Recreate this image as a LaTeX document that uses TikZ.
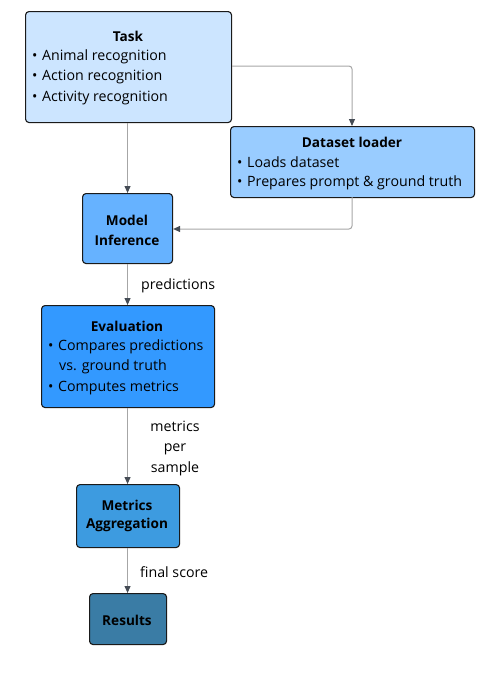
\documentclass[tikz,border=0pt]{standalone}
\usepackage{fontspec}
\setmainfont{Open Sans}
\usetikzlibrary{arrows.meta}
\definecolor{cTask}{HTML}{CCE5FF}
\definecolor{cData}{HTML}{99CCFF}
\definecolor{cModel}{HTML}{66B2FF}
\definecolor{cEval}{HTML}{3399FF}
\definecolor{cAgg}{HTML}{3D9BE0}
\definecolor{cRes}{HTML}{3A7CA5}
\definecolor{cBorder}{HTML}{1A1A1A}
\definecolor{cLine}{HTML}{A6A6A6}
\definecolor{cTip}{HTML}{454C55}
\tikzset{
  box/.style={draw=cBorder, line width=1.1pt, rounded corners=3.5pt, inner sep=0pt, anchor=north west},
  ttl/.style={font=\fontsize{13.6}{15}\selectfont\bfseries, inner sep=0pt, text=black},
  txt/.style={font=\fontsize{14.2}{15}\selectfont, inner sep=0pt, anchor=west, text=black},
  lbl/.style={font=\fontsize{14.2}{20.5}\selectfont, inner sep=0pt, text=black},
  conn/.style={draw=cLine, line width=1pt, rounded corners=3pt, -{Triangle[width=6pt,length=7pt,color=cTip]}}
}
\newcommand{\bul}{\makebox[10pt][l]{•}}
\begin{document}
\begin{tikzpicture}[x=1pt,y=-1pt]
\useasboundingbox (0,0) rectangle (484,678);
% boxes
\node[box, fill=cTask, minimum width=206pt, minimum height=111pt] (task) at (25,11) {};
\node[box, fill=cData, minimum width=244pt, minimum height=71pt] (data) at (230,126) {};
\node[box, fill=cModel, minimum width=90pt, minimum height=70pt] (model) at (82,193) {};
\node[box, fill=cEval, minimum width=173pt, minimum height=102pt] (eval) at (41,305) {};
\node[box, fill=cAgg, minimum width=103pt, minimum height=63pt] (agg) at (76,484) {};
\node[box, fill=cRes, minimum width=77pt, minimum height=51pt] (res) at (89,593) {};
% texts
\node[ttl] (taskT) at (128,36) {Task};
\node[txt] (taskA) at (32,57) {\bul Animal recognition};
\node[txt] (taskB) at (32,77) {\bul Action recognition};
\node[txt] (taskC) at (32,98) {\bul Activity recognition};
\node[ttl] (dataT) at (352,142) {Dataset loader};
\node[txt] (dataA) at (237,162) {\bul Loads dataset};
\node[txt] (dataB) at (237,183) {\bul Prepares prompt \& ground truth};
\node[ttl] (modelT1) at (127,220) {Model};
\node[ttl] (modelT2) at (127,240) {Inference};
\node[ttl] (evalT) at (127,326) {Evaluation};
\node[txt] (evalA) at (48,347) {\bul Compares predictions};
\node[txt] (evalB) at (59,367) {vs. ground truth};
\node[txt] (evalC) at (48,388) {\bul Computes metrics};
\node[ttl] (aggT1) at (127,505) {Metrics};
\node[ttl] (aggT2) at (127,525) {Aggregation};
\node[ttl] (resT) at (127,620) {Results};
% connectors
\draw[conn] (task.south -| model.north) -- (model.north);
\draw[conn] (task.east |- 0,66) -- (352,66) -- (data.north -| 352,0);
\coordinate (dBot) at (352,197);
\draw[conn] (dBot) -- (352,229) -- (model.east |- 0,229);
\draw[conn] (model.south) -- (eval.north -| model.south);
\draw[conn] (eval.south -| model.south) -- (agg.north -| model.south);
\draw[conn] (agg.south -| model.south) -- (res.north -| model.south);
% labels
\node[lbl, anchor=west] (l1) at (141,286) {predictions};
\node[lbl, align=center] (l2) at (175,448) {metrics\\per\\sample};
\node[lbl, anchor=west] (l3) at (140,572) {final score};
\end{tikzpicture}
\end{document}
